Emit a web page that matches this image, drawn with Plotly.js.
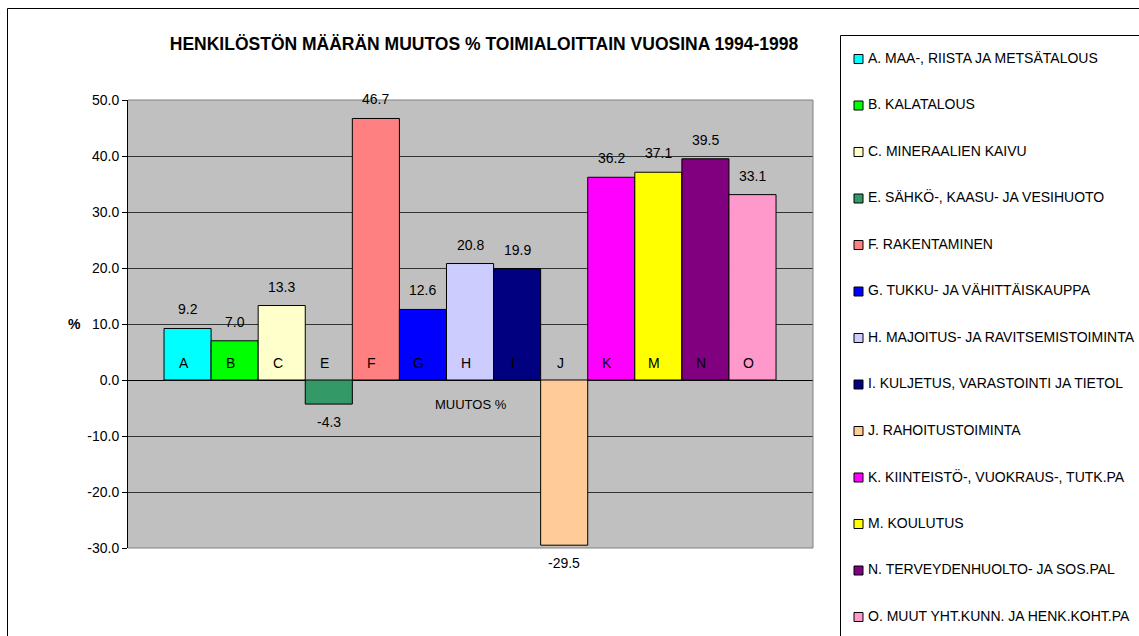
<!DOCTYPE html>
<html>
<head>
<meta charset="utf-8">
<script src="https://cdn.plot.ly/plotly-3.0.1.min.js"></script>
<style>
html,body{margin:0;padding:0;background:#fff;}
#chart{width:1139px;height:636px;}
</style>
</head>
<body>
<div id="chart"></div>
<script>
// ---- data ----
const categories = ['A','B','C','E','F','G','H','I','J','K','M','N','O'];
const seriesNames = [
  'A. MAA-, RIISTA JA METSÄTALOUS',
  'B. KALATALOUS',
  'C. MINERAALIEN KAIVU',
  'E. SÄHKÖ-, KAASU- JA VESIHUOTO',
  'F. RAKENTAMINEN',
  'G. TUKKU- JA VÄHITTÄISKAUPPA',
  'H. MAJOITUS- JA RAVITSEMISTOIMINTA',
  'I. KULJETUS, VARASTOINTI JA TIETOL',
  'J. RAHOITUSTOIMINTA',
  'K. KIINTEISTÖ-, VUOKRAUS-, TUTK.PA',
  'M. KOULUTUS',
  'N. TERVEYDENHUOLTO- JA SOS.PAL',
  'O. MUUT YHT.KUNN. JA HENK.KOHT.PA'
];
const values = [9.2, 7.0, 13.3, -4.3, 46.7, 12.6, 20.8, 19.9, -29.5, 36.2, 37.1, 39.5, 33.1];
const colors = ['#00FFFF','#00FF00','#FFFFCC','#339966','#FF8080','#0000FF','#CCCCFF',
                '#000080','#FFCC99','#FF00FF','#FFFF00','#800080','#FF99CC'];
const yTicks = [-30, -20, -10, 0, 10, 20, 30, 40, 50];
const yTickText = ['-30.0', '-20.0', '-10.0', '0.0', '10.0', '20.0', '30.0', '40.0', '50.0'];
const categoryLabel = 'MUUTOS %';
const yTitle = '%';
const chartTitle = 'HENKILÖSTÖN MÄÄRÄN MUUTOS % TOIMIALOITTAIN VUOSINA 1994-1998';

// ---- layout geometry ----
const W = 1139, H = 636;
const M = {l:128, r:326, t:100, b:88};
const PW = W - M.l - M.r, PH = H - M.t - M.b;
const px2x = px => (px - M.l) / PW;
const py2y = py => (H - M.b - py) / PH;
const FONT = '"Liberation Sans", Arial, sans-serif';

const traces = categories.map((c, i) => ({
  type: 'bar',
  x: [i],
  y: [values[i]],
  width: 1,
  name: seriesNames[i],
  marker: {color: colors[i], line: {color: '#000', width: 1}},
  hoverinfo: 'name+y',
  showlegend: false
}));

const annotations = [];
// value labels
values.forEach((v, i) => {
  annotations.push({
    x: i, y: v, xref: 'x', yref: 'y',
    text: v.toFixed(1), showarrow: false,
    yanchor: 'middle', yshift: v >= 0 ? 19 : -18,
    font: {family: FONT, size: 14, color: '#000'}
  });
});
// category letters inside bars
categories.forEach((c, i) => {
  annotations.push({
    x: i, y: 0, xref: 'x', yref: 'y',
    text: c, showarrow: false,
    yanchor: 'middle', yshift: 17, xshift: -4,
    font: {family: FONT, size: 14, color: '#000'}
  });
});
// category axis label
annotations.push({
  x: 0.5, y: 0, xref: 'paper', yref: 'y', text: categoryLabel, showarrow: false,
  yanchor: 'middle', yshift: -24,
  font: {family: FONT, size: 13, color: '#000'}
});
// y title
annotations.push({
  x: px2x(74), y: 10, xref: 'paper', yref: 'y', text: '<b>' + yTitle + '</b>', showarrow: false,
  xanchor: 'center', yanchor: 'middle',
  font: {family: FONT, size: 14, color: '#000'}
});

const shapes = [];
// outer chart border
shapes.push({type:'rect', xref:'paper', yref:'paper', x0:px2x(7.5), y0:py2y(8.5), x1:px2x(1300), y1:py2y(800),
  line:{color:'#000', width:1}, fillcolor:'rgba(0,0,0,0)'});
// legend box
shapes.push({type:'rect', xref:'paper', yref:'paper', x0:px2x(840.5), y0:py2y(35.5), x1:px2x(1300), y1:py2y(800),
  line:{color:'#000', width:1}, fillcolor:'#fff'});
// plot area border (top, right, bottom)
shapes.push({type:'line', xref:'paper', yref:'paper', x0:0, x1:1, y0:1, y1:1, line:{color:'#808080', width:1}});
shapes.push({type:'line', xref:'paper', yref:'paper', x0:1, x1:1, y0:0, y1:1, line:{color:'#808080', width:1}});
shapes.push({type:'line', xref:'paper', yref:'paper', x0:0, x1:1, y0:0, y1:0, line:{color:'#808080', width:1}});

// custom legend
const LEG_Y0 = 57.5, LEG_STEP = 46.5;
seriesNames.forEach((n, i) => {
  const cy = LEG_Y0 + i * LEG_STEP;
  shapes.push({type:'rect', xref:'paper', yref:'paper',
    x0:px2x(854), x1:px2x(863), y0:py2y(cy + 6), y1:py2y(cy - 3),
    line:{color:'#000', width:1}, fillcolor: colors[i]});
  annotations.push({x: px2x(866), y: py2y(cy), xref:'paper', yref:'paper', text: n,
    showarrow:false, xanchor:'left', yanchor:'middle',
    font:{family: FONT, size: 14, color:'#000'}});
});

const layout = {
  width: W, height: H,
  margin: M,
  paper_bgcolor: '#fff',
  plot_bgcolor: '#C0C0C0',
  barmode: 'overlay',
  showlegend: false,
  title: {
    text: '<b>' + chartTitle + '</b>',
    x: 484 / W, xanchor: 'center',
    y: 1 - 44 / H, yanchor: 'middle',
    font: {family: FONT, size: 17.5, color: '#000'}
  },
  xaxis: {
    range: [-1.265, 13.285],
    showticklabels: false, showgrid: false, zeroline: false, showline: false, ticks: ''
  },
  yaxis: {
    range: [-30, 50],
    tickvals: yTicks,
    ticktext: yTickText,
    ticks: 'outside', ticklen: 5, tickcolor: '#000',
    showline: true, linecolor: '#000', linewidth: 1,
    showgrid: true, gridcolor: '#333', gridwidth: 1,
    zeroline: true, zerolinecolor: '#000', zerolinewidth: 1,
    tickfont: {family: FONT, size: 14, color: '#000'}
  },
  annotations: annotations,
  shapes: shapes
};

Plotly.newPlot('chart', traces, layout, {displayModeBar: false, staticPlot: true});
</script>
</body>
</html>
